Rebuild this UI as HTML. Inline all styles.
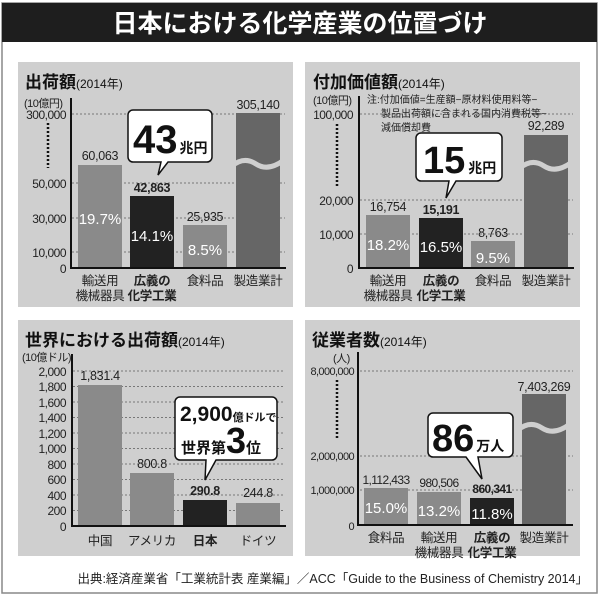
<!DOCTYPE html>
<html><head><meta charset="utf-8"><style>
html,body{margin:0;padding:0;background:#fff;}
svg{display:block;font-family:"Liberation Sans","Noto Sans CJK JP",sans-serif;}
.g{stroke:#777;stroke-width:1;stroke-dasharray:2,2;}
.ax{stroke:#111;stroke-width:2;}
.t{font-size:12.5px;fill:#222;letter-spacing:-0.3px;}
.y{font-size:12px;fill:#222;letter-spacing:-0.5px;}
.tl{font-size:11px;fill:#222;letter-spacing:-0.5px;}
.w{font-size:15px;fill:#fff;}
.b{font-weight:bold;}
</style></head><body>
<svg width="600" height="599" viewBox="0 0 600 599" xmlns="http://www.w3.org/2000/svg">
<rect x="2" y="3" width="595" height="590" fill="#fff" stroke="#888" stroke-width="1.5"/>
<rect x="2" y="3" width="595" height="39" fill="#1e1e1e"/>
<text x="300" y="32" text-anchor="middle" font-size="25" font-weight="bold" fill="#fff">日本における化学産業の位置づけ</text>

<!-- Panel 1 -->
<rect x="18" y="62" width="275" height="245" fill="#cfcfcf"/>
<text x="25" y="88" font-size="17" font-weight="bold" fill="#111">出荷額<tspan font-size="12" font-weight="normal">(2014年)</tspan></text>
<text x="24" y="107" class="tl">(10億円)</text>
<text x="66" y="119" class="y" text-anchor="end">300,000</text>
<text x="66" y="188" class="y" text-anchor="end">50,000</text>
<text x="66" y="223" class="y" text-anchor="end">30,000</text>
<text x="66" y="257" class="y" text-anchor="end">10,000</text>
<text x="66" y="273" class="y" text-anchor="end">0</text>
<line x1="48" y1="123" x2="48" y2="168" stroke="#111" stroke-width="2.5" stroke-dasharray="2,2"/>
<line x1="72" y1="114" x2="285" y2="114" class="g"/>
<line x1="72" y1="183" x2="285" y2="183" class="g"/>
<line x1="72" y1="218" x2="285" y2="218" class="g"/>
<line x1="72" y1="252" x2="285" y2="252" class="g"/>
<rect x="78" y="165" width="44" height="103" fill="#8a8a8a"/>
<rect x="130" y="196" width="44" height="72" fill="#222"/>
<rect x="183" y="225" width="44" height="43" fill="#8a8a8a"/>
<rect x="236" y="113" width="44" height="155" fill="#666"/>
<path d="M232 166 q12 -10 24 -2 q12 8 28 -4" fill="none" stroke="#cfcfcf" stroke-width="5"/>
<line x1="71" y1="98" x2="71" y2="269" class="ax"/>
<line x1="70" y1="268" x2="286" y2="268" class="ax"/>
<text x="100" y="160" class="t" text-anchor="middle">60,063</text>
<text x="152" y="192" class="t b" text-anchor="middle">42,863</text>
<text x="205" y="221" class="t" text-anchor="middle">25,935</text>
<text x="258" y="109" class="t" text-anchor="middle">305,140</text>
<text x="100" y="224" class="w" text-anchor="middle">19.7%</text>
<text x="152" y="241" class="w" text-anchor="middle">14.1%</text>
<text x="205" y="255" class="w" text-anchor="middle">8.5%</text>
<text x="100" y="285" class="t" text-anchor="middle">輸送用</text>
<text x="100" y="300" class="t" text-anchor="middle">機械器具</text>
<text x="152" y="285" class="t b" text-anchor="middle">広義の</text>
<text x="152" y="300" class="t b" text-anchor="middle">化学工業</text>
<text x="205" y="285" class="t" text-anchor="middle">食料品</text>
<text x="258" y="285" class="t" text-anchor="middle">製造業計</text>
<path d="M133 110 H207 a5 5 0 0 1 5 5 V157 a5 5 0 0 1 -5 5 H168 L158 175 L161 162 H133 a5 5 0 0 1 -5 -5 V115 a5 5 0 0 1 5 -5 Z" fill="#fff" stroke="#111" stroke-width="1.5"/>
<text x="133" y="153" font-size="40" font-weight="bold" fill="#111">43<tspan font-size="14" dx="2">兆円</tspan></text>

<!-- Panel 2 -->
<rect x="305" y="62" width="275" height="245" fill="#cfcfcf"/>
<text x="313" y="88" font-size="17" font-weight="bold" fill="#111">付加価値額<tspan font-size="12" font-weight="normal">(2014年)</tspan></text>
<text x="313" y="104" class="tl">(10億円)</text>
<text x="353" y="119" class="y" text-anchor="end">100,000</text>
<text x="353" y="205" class="y" text-anchor="end">20,000</text>
<text x="353" y="239" class="y" text-anchor="end">10,000</text>
<text x="353" y="273" class="y" text-anchor="end">0</text>
<line x1="337" y1="124" x2="337" y2="188" stroke="#111" stroke-width="2.5" stroke-dasharray="2,2"/>
<line x1="360" y1="114" x2="573" y2="114" class="g"/>
<line x1="360" y1="200" x2="573" y2="200" class="g"/>
<line x1="360" y1="234" x2="573" y2="234" class="g"/>
<text x="367" y="103" font-size="10" fill="#222">注:付加価値=生産額−原材料使用料等−</text>
<text x="381" y="117" font-size="10" fill="#222">製品出荷額に含まれる国内消費税等−</text>
<text x="381" y="131" font-size="10" fill="#222">減価償却費</text>
<rect x="366" y="215" width="44" height="53" fill="#8a8a8a"/>
<rect x="419" y="218" width="44" height="50" fill="#222"/>
<rect x="471" y="241" width="44" height="27" fill="#8a8a8a"/>
<rect x="524" y="135" width="44" height="133" fill="#666"/>
<path d="M520 168 q12 -10 24 -2 q12 8 28 -4" fill="none" stroke="#cfcfcf" stroke-width="5"/>
<line x1="359" y1="96" x2="359" y2="269" class="ax"/>
<line x1="358" y1="268" x2="574" y2="268" class="ax"/>
<text x="388" y="211" class="t" text-anchor="middle">16,754</text>
<text x="441" y="214" class="t b" text-anchor="middle">15,191</text>
<text x="493" y="237" class="t" text-anchor="middle">8,763</text>
<text x="546" y="130" class="t" text-anchor="middle">92,289</text>
<text x="388" y="250" class="w" text-anchor="middle">18.2%</text>
<text x="441" y="252" class="w" text-anchor="middle">16.5%</text>
<text x="493" y="263" class="w" text-anchor="middle">9.5%</text>
<text x="388" y="285" class="t" text-anchor="middle">輸送用</text>
<text x="388" y="300" class="t" text-anchor="middle">機械器具</text>
<text x="441" y="285" class="t b" text-anchor="middle">広義の</text>
<text x="441" y="300" class="t b" text-anchor="middle">化学工業</text>
<text x="493" y="285" class="t" text-anchor="middle">食料品</text>
<text x="546" y="285" class="t" text-anchor="middle">製造業計</text>
<path d="M421 133 H497 a5 5 0 0 1 5 5 V176 a5 5 0 0 1 -5 5 H456 L446 198 L449 181 H421 a5 5 0 0 1 -5 -5 V138 a5 5 0 0 1 5 -5 Z" fill="#fff" stroke="#111" stroke-width="1.5"/>
<text x="423" y="173" font-size="38" font-weight="bold" fill="#111">15<tspan font-size="14" dx="3">兆円</tspan></text>

<!-- Panel 3 -->
<rect x="18" y="320" width="275" height="236" fill="#cfcfcf"/>
<text x="25" y="346" font-size="17" font-weight="bold" fill="#111">世界における出荷額<tspan font-size="12" font-weight="normal">(2014年)</tspan></text>
<text x="22" y="361" class="tl">(10億ドル)</text>
<g class="y" text-anchor="end">
<text x="66" y="376">2,000</text><text x="66" y="391">1,800</text><text x="66" y="407">1,600</text><text x="66" y="422">1,400</text><text x="66" y="438">1,200</text><text x="66" y="453">1,000</text><text x="66" y="469">800</text><text x="66" y="484">600</text><text x="66" y="500">400</text><text x="66" y="515">200</text><text x="66" y="531">0</text>
</g>
<g class="g">
<line x1="73" y1="371" x2="285" y2="371"/><line x1="73" y1="386.5" x2="285" y2="386.5"/><line x1="73" y1="402" x2="285" y2="402"/><line x1="73" y1="417.5" x2="285" y2="417.5"/><line x1="73" y1="433" x2="285" y2="433"/><line x1="73" y1="448.5" x2="285" y2="448.5"/><line x1="73" y1="464" x2="285" y2="464"/><line x1="73" y1="479.5" x2="285" y2="479.5"/><line x1="73" y1="495" x2="285" y2="495"/><line x1="73" y1="510.5" x2="285" y2="510.5"/>
</g>
<rect x="78" y="385" width="44" height="141" fill="#8a8a8a"/>
<rect x="130" y="473" width="44" height="53" fill="#8a8a8a"/>
<rect x="183" y="500" width="44" height="26" fill="#222"/>
<rect x="236" y="503" width="44" height="23" fill="#8a8a8a"/>
<line x1="72" y1="354" x2="72" y2="527" class="ax"/>
<line x1="71" y1="526" x2="286" y2="526" class="ax"/>
<text x="100" y="380" class="t" text-anchor="middle">1,831.4</text>
<text x="152" y="468" class="t" text-anchor="middle">800.8</text>
<text x="205" y="495" class="t b" text-anchor="middle">290.8</text>
<text x="258" y="497" class="t" text-anchor="middle">244.8</text>
<text x="100" y="545" class="t" text-anchor="middle">中国</text>
<text x="152" y="545" class="t" text-anchor="middle">アメリカ</text>
<text x="205" y="545" class="t b" text-anchor="middle">日本</text>
<text x="258" y="545" class="t" text-anchor="middle">ドイツ</text>
<path d="M180 397 H272 a5 5 0 0 1 5 5 V455 a5 5 0 0 1 -5 5 H216 L205 480 L206 460 H180 a5 5 0 0 1 -5 -5 V402 a5 5 0 0 1 5 -5 Z" fill="#fff" stroke="#111" stroke-width="1.5"/>
<text x="180" y="421" font-size="21" font-weight="bold" fill="#111">2,900<tspan font-size="11">億ドルで</tspan></text>
<text x="181" y="453" font-size="15" font-weight="bold" fill="#111">世界第<tspan font-size="36">3</tspan>位</text>

<!-- Panel 4 -->
<rect x="305" y="320" width="275" height="236" fill="#cfcfcf"/>
<text x="312" y="346" font-size="17" font-weight="bold" fill="#111">従業者数<tspan font-size="12" font-weight="normal">(2014年)</tspan></text>
<text x="333" y="362" class="tl">(人)</text>
<g font-size="11" fill="#222" text-anchor="end" letter-spacing="-0.6">
<text x="354" y="375">8,000,000</text><text x="354" y="460">2,000,000</text><text x="354" y="494">1,000,000</text><text x="354" y="530">0</text>
</g>
<line x1="337" y1="380" x2="337" y2="440" stroke="#111" stroke-width="2.5" stroke-dasharray="2,2"/>
<line x1="360" y1="371" x2="573" y2="371" class="g"/>
<line x1="360" y1="456" x2="573" y2="456" class="g"/>
<line x1="360" y1="490" x2="573" y2="490" class="g"/>
<rect x="364" y="488" width="44" height="37" fill="#8a8a8a"/>
<rect x="417" y="492" width="44" height="33" fill="#8a8a8a"/>
<rect x="470" y="498" width="44" height="27" fill="#222"/>
<rect x="522" y="394" width="44" height="131" fill="#666"/>
<path d="M518 430 q12 -10 24 -2 q12 8 28 -4" fill="none" stroke="#cfcfcf" stroke-width="5"/>
<line x1="358" y1="352" x2="358" y2="526" class="ax"/>
<line x1="357" y1="525" x2="573" y2="525" class="ax"/>
<text x="386" y="484" font-size="12" fill="#222" letter-spacing="-0.6" text-anchor="middle">1,112,433</text>
<text x="439" y="487" font-size="12" fill="#222" letter-spacing="-0.6" text-anchor="middle">980,506</text>
<text x="492" y="493" font-size="12" fill="#222" font-weight="bold" letter-spacing="-0.6" text-anchor="middle">860,341</text>
<text x="544" y="391" class="t" text-anchor="middle">7,403,269</text>
<text x="386" y="513" class="w" text-anchor="middle">15.0%</text>
<text x="439" y="516" class="w" text-anchor="middle">13.2%</text>
<text x="492" y="519" class="w" text-anchor="middle">11.8%</text>
<text x="386" y="542" class="t" text-anchor="middle">食料品</text>
<text x="439" y="542" class="t" text-anchor="middle">輸送用</text>
<text x="439" y="557" class="t" text-anchor="middle">機械器具</text>
<text x="492" y="542" class="t b" text-anchor="middle">広義の</text>
<text x="492" y="557" class="t b" text-anchor="middle">化学工業</text>
<text x="544" y="542" class="t" text-anchor="middle">製造業計</text>
<path d="M433 413 H508 a5 5 0 0 1 5 5 V452 a5 5 0 0 1 -5 5 H478 L482 479 L466 457 H433 a5 5 0 0 1 -5 -5 V418 a5 5 0 0 1 5 -5 Z" fill="#fff" stroke="#111" stroke-width="1.5"/>
<text x="432" y="451" font-size="38" font-weight="bold" fill="#111">86<tspan font-size="14" dx="2">万人</tspan></text>

<text x="588" y="583" text-anchor="end" font-size="12.5" fill="#222">出典:経済産業省「工業統計表 産業編」／ACC「Guide to the Business of Chemistry 2014」</text>
</svg>
</body></html>
